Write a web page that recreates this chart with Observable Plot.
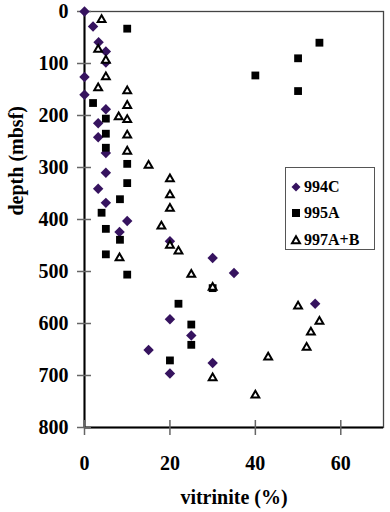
<!DOCTYPE html>
<html><head><meta charset="utf-8">
<script src="https://cdn.jsdelivr.net/npm/d3@7"></script>
<script src="https://cdn.jsdelivr.net/npm/@observablehq/plot@0.6"></script>
<style>
body{margin:0;background:#fff;}
#wrap{position:relative;width:390px;height:512px;}
#wrap svg text{font-family:"Liberation Serif","Times New Roman",Times,serif !important;font-weight:bold !important;}
.legend{position:absolute;left:285px;top:167px;width:90px;height:83px;border:1px solid #555;background:#fff;box-sizing:border-box;font-family:"Liberation Serif","Times New Roman",Times,serif;font-weight:bold;font-size:16px;color:#000;}
.item{position:absolute;left:4px;height:20px;display:flex;align-items:center;}
.item svg{margin-right:2px;}
</style></head><body><div id="wrap"></div>
<script>
const seriesNames = ["994C", "995A", "997A+B"];
const seriesColors = ["#36135f", "#000000", "#000000"];

const x994C = [0, 2, 3.3, 5, 5, 0, 0, 5, 3.2, 3.2, 5, 5, 3.2, 5, 10, 8.2, 20, 30, 35, 54, 20, 25, 15, 30, 20];
const depth994C = [0, 29, 59, 77, 98, 126, 160, 188, 215, 242, 272, 310, 341, 368, 403, 424, 442, 474, 503, 562, 592, 623, 651, 676, 696];

const x995A = [10, 55, 50, 40, 50, 2, 5, 5, 5, 10, 10, 8.3, 4, 5, 8.3, 5, 10, 30, 22, 25, 25, 20];
const depth995A = [33, 60, 90, 123, 153, 176, 206, 235, 262, 293, 330, 361, 387, 418, 439, 467, 506, 532, 562, 602, 641, 671];

const x997AB = [4, 3.2, 5, 5, 3.2, 10, 10, 8, 10, 10, 10, 15, 20, 20, 20, 18, 20, 22, 8.2, 25, 30, 50, 55, 53, 52, 43, 30, 40];
const depth997AB = [16, 73, 94, 126, 147, 153, 181, 203, 208, 238, 269, 296, 322, 353, 379, 413, 450, 461, 474, 506, 531, 567, 596, 617, 646, 665, 705, 738];

const xTicks = [0, 20, 40, 60];
const yTicks = [0, 100, 200, 300, 400, 500, 600, 700, 800];
const xLabel = "vitrinite (%)";
const yLabel = "depth (mbsf)";

const toRows = (xs, ds, s) => xs.map((v, i) => ({x: v, depth: ds[i], series: s}));
const d994C = toRows(x994C, depth994C, seriesNames[0]);
const d995A = toRows(x995A, depth995A, seriesNames[1]);
const d997AB = toRows(x997AB, depth997AB, seriesNames[2]);

const font = "Liberation Serif";

const chart = Plot.plot({
  width: 390, height: 512,
  marginLeft: 84, marginRight: 7, marginTop: 11, marginBottom: 85,
  x: {domain: [0, 70]},
  y: {domain: [0, 800], reverse: true},
  marks: [
    Plot.frame({stroke: "#444", strokeWidth: 1.3}),
    Plot.ruleX([0], {stroke: "#000", strokeWidth: 2}),
    Plot.ruleY([800], {stroke: "#000", strokeWidth: 2}),
    Plot.tickX(xTicks, {x: d => d, stroke: "#666", strokeWidth: 1.5, insetTop: 409, insetBottom: -8}),
    Plot.tickY(yTicks, {y: d => d, stroke: "#666", strokeWidth: 1.5, insetLeft: -7, insetRight: 292}),
    Plot.axisX({ticks: xTicks, tickSize: 0, tickPadding: 28, fontSize: 20, fontWeight: "bold", fontFamily: font, label: null}),
    Plot.axisY({ticks: yTicks, tickSize: 0, tickPadding: 16, fontSize: 20, fontWeight: "bold", fontFamily: font, label: null}),
    Plot.text([xLabel], {text: d => d, frameAnchor: "bottom", dy: 70, lineAnchor: "middle", fontSize: 20, fontWeight: "bold", fontFamily: font}),
    Plot.text([yLabel], {text: d => d, frameAnchor: "left", dx: -68, dy: -4, rotate: -90, lineAnchor: "middle", fontSize: 20, fontWeight: "bold", fontFamily: font}),
    Plot.dot(d994C, {x: "x", y: "depth", symbol: "diamond2", r: 4.7, fill: seriesColors[0], stroke: "none"}),
    Plot.dot(d995A, {x: "x", y: "depth", symbol: "square", r: 4.4, fill: seriesColors[1], stroke: "none"}),
    Plot.dot(d997AB, {x: "x", y: "depth", symbol: "triangle", r: 2.9, fill: "#fff", stroke: seriesColors[2], strokeWidth: 2})
  ]
});
const wrap = document.getElementById("wrap");
wrap.appendChild(chart);

const legend = document.createElement("div");
legend.className = "legend";
const symbols = [
  `<svg width="12" height="12" viewBox="-6 -6 12 12"><path d="M0,-4.5L4.5,0L0,4.5L-4.5,0Z" fill="${seriesColors[0]}"/></svg>`,
  `<svg width="12" height="12" viewBox="-6 -6 12 12"><rect x="-4" y="-4" width="8" height="8" fill="${seriesColors[1]}"/></svg>`,
  `<svg width="12" height="12" viewBox="-6 -6 12 12"><path d="M0,-3.8L4,3.3L-4,3.3Z" fill="#fff" stroke="${seriesColors[2]}" stroke-width="2"/></svg>`
];
const tops = [9, 35, 62];
seriesNames.forEach((s, i) => {
  const it = document.createElement("div");
  it.className = "item";
  it.style.top = tops[i] + "px";
  it.innerHTML = symbols[i] + `<span>${s}</span>`;
  legend.appendChild(it);
});
wrap.appendChild(legend);
</script></body></html>
